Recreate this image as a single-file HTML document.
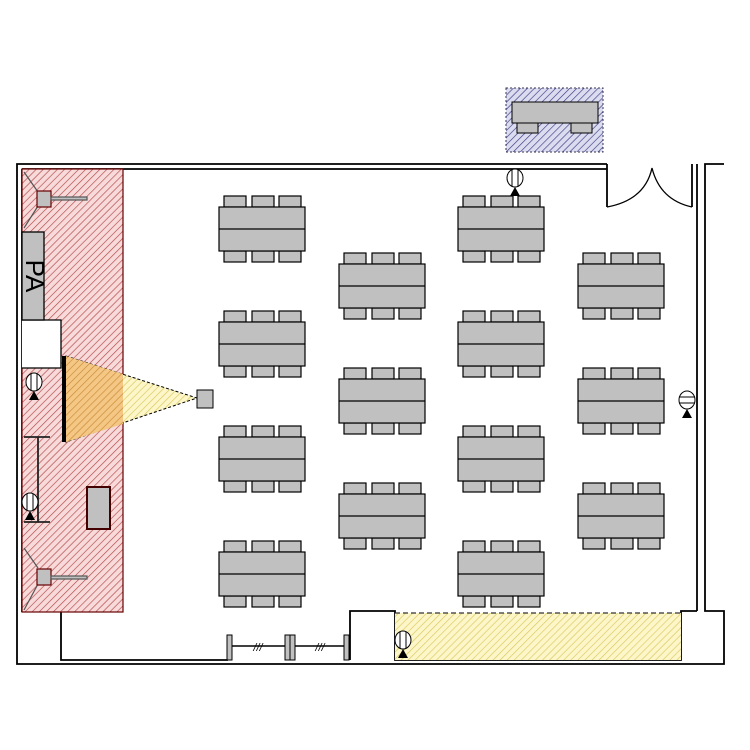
<!DOCTYPE html>
<html><head><meta charset="utf-8"><style>html,body{margin:0;padding:0;background:#fff}svg{display:block}</style></head><body>
<svg width="750" height="750" viewBox="0 0 750 750" xmlns="http://www.w3.org/2000/svg">
<defs>
<pattern id="pk" width="5" height="5" patternUnits="userSpaceOnUse" patternTransform="rotate(45)"><rect width="5" height="5" fill="#f8dada"/><line x1="0" y1="0" x2="0" y2="5" stroke="#b04848" stroke-width="1.3"/></pattern>
<pattern id="yl" width="5" height="5" patternUnits="userSpaceOnUse" patternTransform="rotate(45)"><rect width="5" height="5" fill="#fdf6c8"/><line x1="0" y1="0" x2="0" y2="5" stroke="#d8c860" stroke-width="1.3"/></pattern>
<pattern id="or" width="5" height="5" patternUnits="userSpaceOnUse" patternTransform="rotate(45)"><rect width="5" height="5" fill="#f4c884"/><line x1="0" y1="0" x2="0" y2="5" stroke="#c88838" stroke-width="1.3"/></pattern>
<pattern id="bl" width="5" height="5" patternUnits="userSpaceOnUse" patternTransform="rotate(45)"><rect width="5" height="5" fill="#dcdcf0"/><line x1="0" y1="0" x2="0" y2="5" stroke="#3a3a80" stroke-width="1.3"/></pattern>
<g id="tbl">
 <rect x="5" y="-11" width="22" height="11" fill="#c0c0c0" stroke="#000" stroke-width="1.2"/>
 <rect x="33" y="-11" width="22" height="11" fill="#c0c0c0" stroke="#000" stroke-width="1.2"/>
 <rect x="60" y="-11" width="22" height="11" fill="#c0c0c0" stroke="#000" stroke-width="1.2"/>
 <rect x="5" y="44" width="22" height="11" fill="#c0c0c0" stroke="#000" stroke-width="1.2"/>
 <rect x="33" y="44" width="22" height="11" fill="#c0c0c0" stroke="#000" stroke-width="1.2"/>
 <rect x="60" y="44" width="22" height="11" fill="#c0c0c0" stroke="#000" stroke-width="1.2"/>
 <rect x="0" y="0" width="86" height="44" fill="#c0c0c0" stroke="#000" stroke-width="1.2"/>
 <line x1="0" y1="22" x2="86" y2="22" stroke="#000" stroke-width="1.2"/>
</g>
</defs>
<g fill="none" stroke="#000" stroke-width="1.8">
<polyline points="607,164 17,164 17,664 724,664 724,611 705,611 705,164 724,164"/>
<polyline points="607,169 22,169"/>
<line x1="22" y1="169" x2="22" y2="612"/>
<polyline points="607,164 607,207"/>
<polyline points="697,164 697,611"/>
<polyline points="692,164 692,207"/>
<path d="M607,207 Q645,200 652,168 Q660,200 692,207" stroke-width="1.3"/>
<polyline points="61,612 61,660 228,660"/>
<polyline points="350,660 350,611 395,611 395,660 681,660 681,611 697,611"/>
</g>
<rect x="22" y="169" width="101" height="443" fill="url(#pk)" stroke="#600" stroke-width="1.2"/>
<rect x="22" y="320" width="39" height="48" fill="#fff"/>
<polyline points="22,320 61,320 61,368 22,368" fill="none" stroke="#000" stroke-width="1.3"/>
<rect x="22" y="232" width="22" height="88" fill="#c0c0c0" stroke="#000" stroke-width="1.3"/>
<text x="33" y="276" transform="rotate(90 33 276)" font-family="Liberation Sans, sans-serif" font-size="26" text-anchor="middle" dominant-baseline="middle" fill="#000">PA</text>
<g stroke="#555" stroke-width="1.2" fill="#c0c0c0">
<line x1="24" y1="172" x2="38" y2="192"/><line x1="24" y1="228" x2="38" y2="206"/>
<rect x="37" y="191" width="14" height="16" stroke="#600"/>
<rect x="51" y="197" width="36" height="3"/>
<line x1="24" y1="548" x2="38" y2="568"/><line x1="24" y1="610" x2="38" y2="584"/>
<rect x="37" y="569" width="14" height="16" stroke="#600"/>
<rect x="51" y="576" width="36" height="3"/>
</g>
<path d="M24,437 H50 M38,437 V522 M24,522 H50" fill="none" stroke="#222" stroke-width="1.8"/>
<rect x="87" y="487" width="23" height="42" fill="#c0c0c0" stroke="#400" stroke-width="2"/>
<polygon points="66,356 197,398 66,442" fill="url(#yl)" stroke="#000" stroke-dasharray="3,2"/>
<polygon points="66,356 123,374 123,424 66,442" fill="url(#or)"/>
<rect x="197" y="390" width="16" height="18" fill="#c0c0c0" stroke="#000"/>
<rect x="62" y="356" width="4" height="86" fill="#000"/>
<rect x="506" y="88" width="97" height="64" fill="url(#bl)" stroke="#335" stroke-dasharray="2,2"/>
<rect x="512" y="102" width="86" height="21" fill="#c0c0c0" stroke="#000"/>
<rect x="517" y="123" width="21" height="10" fill="#c0c0c0" stroke="#000"/>
<rect x="571" y="123" width="21" height="10" fill="#c0c0c0" stroke="#000"/>
<rect x="395" y="613" width="286" height="47" fill="url(#yl)"/>
<line x1="395" y1="613" x2="681" y2="613" stroke="#333" stroke-dasharray="5,3" stroke-width="1.2"/>
<use href="#tbl" x="219" y="207"/><use href="#tbl" x="219" y="322"/><use href="#tbl" x="219" y="437"/><use href="#tbl" x="219" y="552"/>
<use href="#tbl" x="339" y="264"/><use href="#tbl" x="339" y="379"/><use href="#tbl" x="339" y="494"/>
<use href="#tbl" x="458" y="207"/><use href="#tbl" x="458" y="322"/><use href="#tbl" x="458" y="437"/><use href="#tbl" x="458" y="552"/>
<use href="#tbl" x="578" y="264"/><use href="#tbl" x="578" y="379"/><use href="#tbl" x="578" y="494"/>
<g stroke="#000" fill="#c0c0c0">
<rect x="227" y="635" width="5" height="25"/><rect x="285" y="635" width="5" height="25"/><rect x="290" y="635" width="5" height="25"/><rect x="344" y="635" width="5" height="25"/>
<line x1="232" y1="646" x2="285" y2="646" stroke-width="1.5"/><line x1="295" y1="646" x2="344" y2="646" stroke-width="1.5"/>
</g>
<text x="258" y="651" font-family="Liberation Sans, sans-serif" font-size="11" font-style="italic" text-anchor="middle">///</text>
<text x="320" y="651" font-family="Liberation Sans, sans-serif" font-size="11" font-style="italic" text-anchor="middle">///</text>
<g fill="#fff" stroke="#000">
<ellipse cx="515" cy="178" rx="8" ry="9"/><line x1="512" y1="170" x2="512" y2="186"/><line x1="518" y1="170" x2="518" y2="186"/>
<ellipse cx="34" cy="382" rx="8" ry="9"/><line x1="31" y1="374" x2="31" y2="390"/><line x1="37" y1="374" x2="37" y2="390"/>
<ellipse cx="30" cy="502" rx="8" ry="9"/><line x1="27" y1="494" x2="27" y2="510"/><line x1="33" y1="494" x2="33" y2="510"/>
<ellipse cx="687" cy="400" rx="8" ry="9"/><line x1="679" y1="397" x2="695" y2="397"/><line x1="679" y1="403" x2="695" y2="403"/>
<ellipse cx="403" cy="640" rx="8" ry="9"/><line x1="400" y1="632" x2="400" y2="648"/><line x1="406" y1="632" x2="406" y2="648"/>
</g>
<g fill="#000">
<polygon points="515,187 510,196 520,196"/>
<polygon points="34,391 29,400 39,400"/>
<polygon points="30,511 25,520 35,520"/>
<polygon points="687,409 682,418 692,418"/>
<polygon points="403,649 398,658 408,658"/>
</g>
</svg>
</body></html>
